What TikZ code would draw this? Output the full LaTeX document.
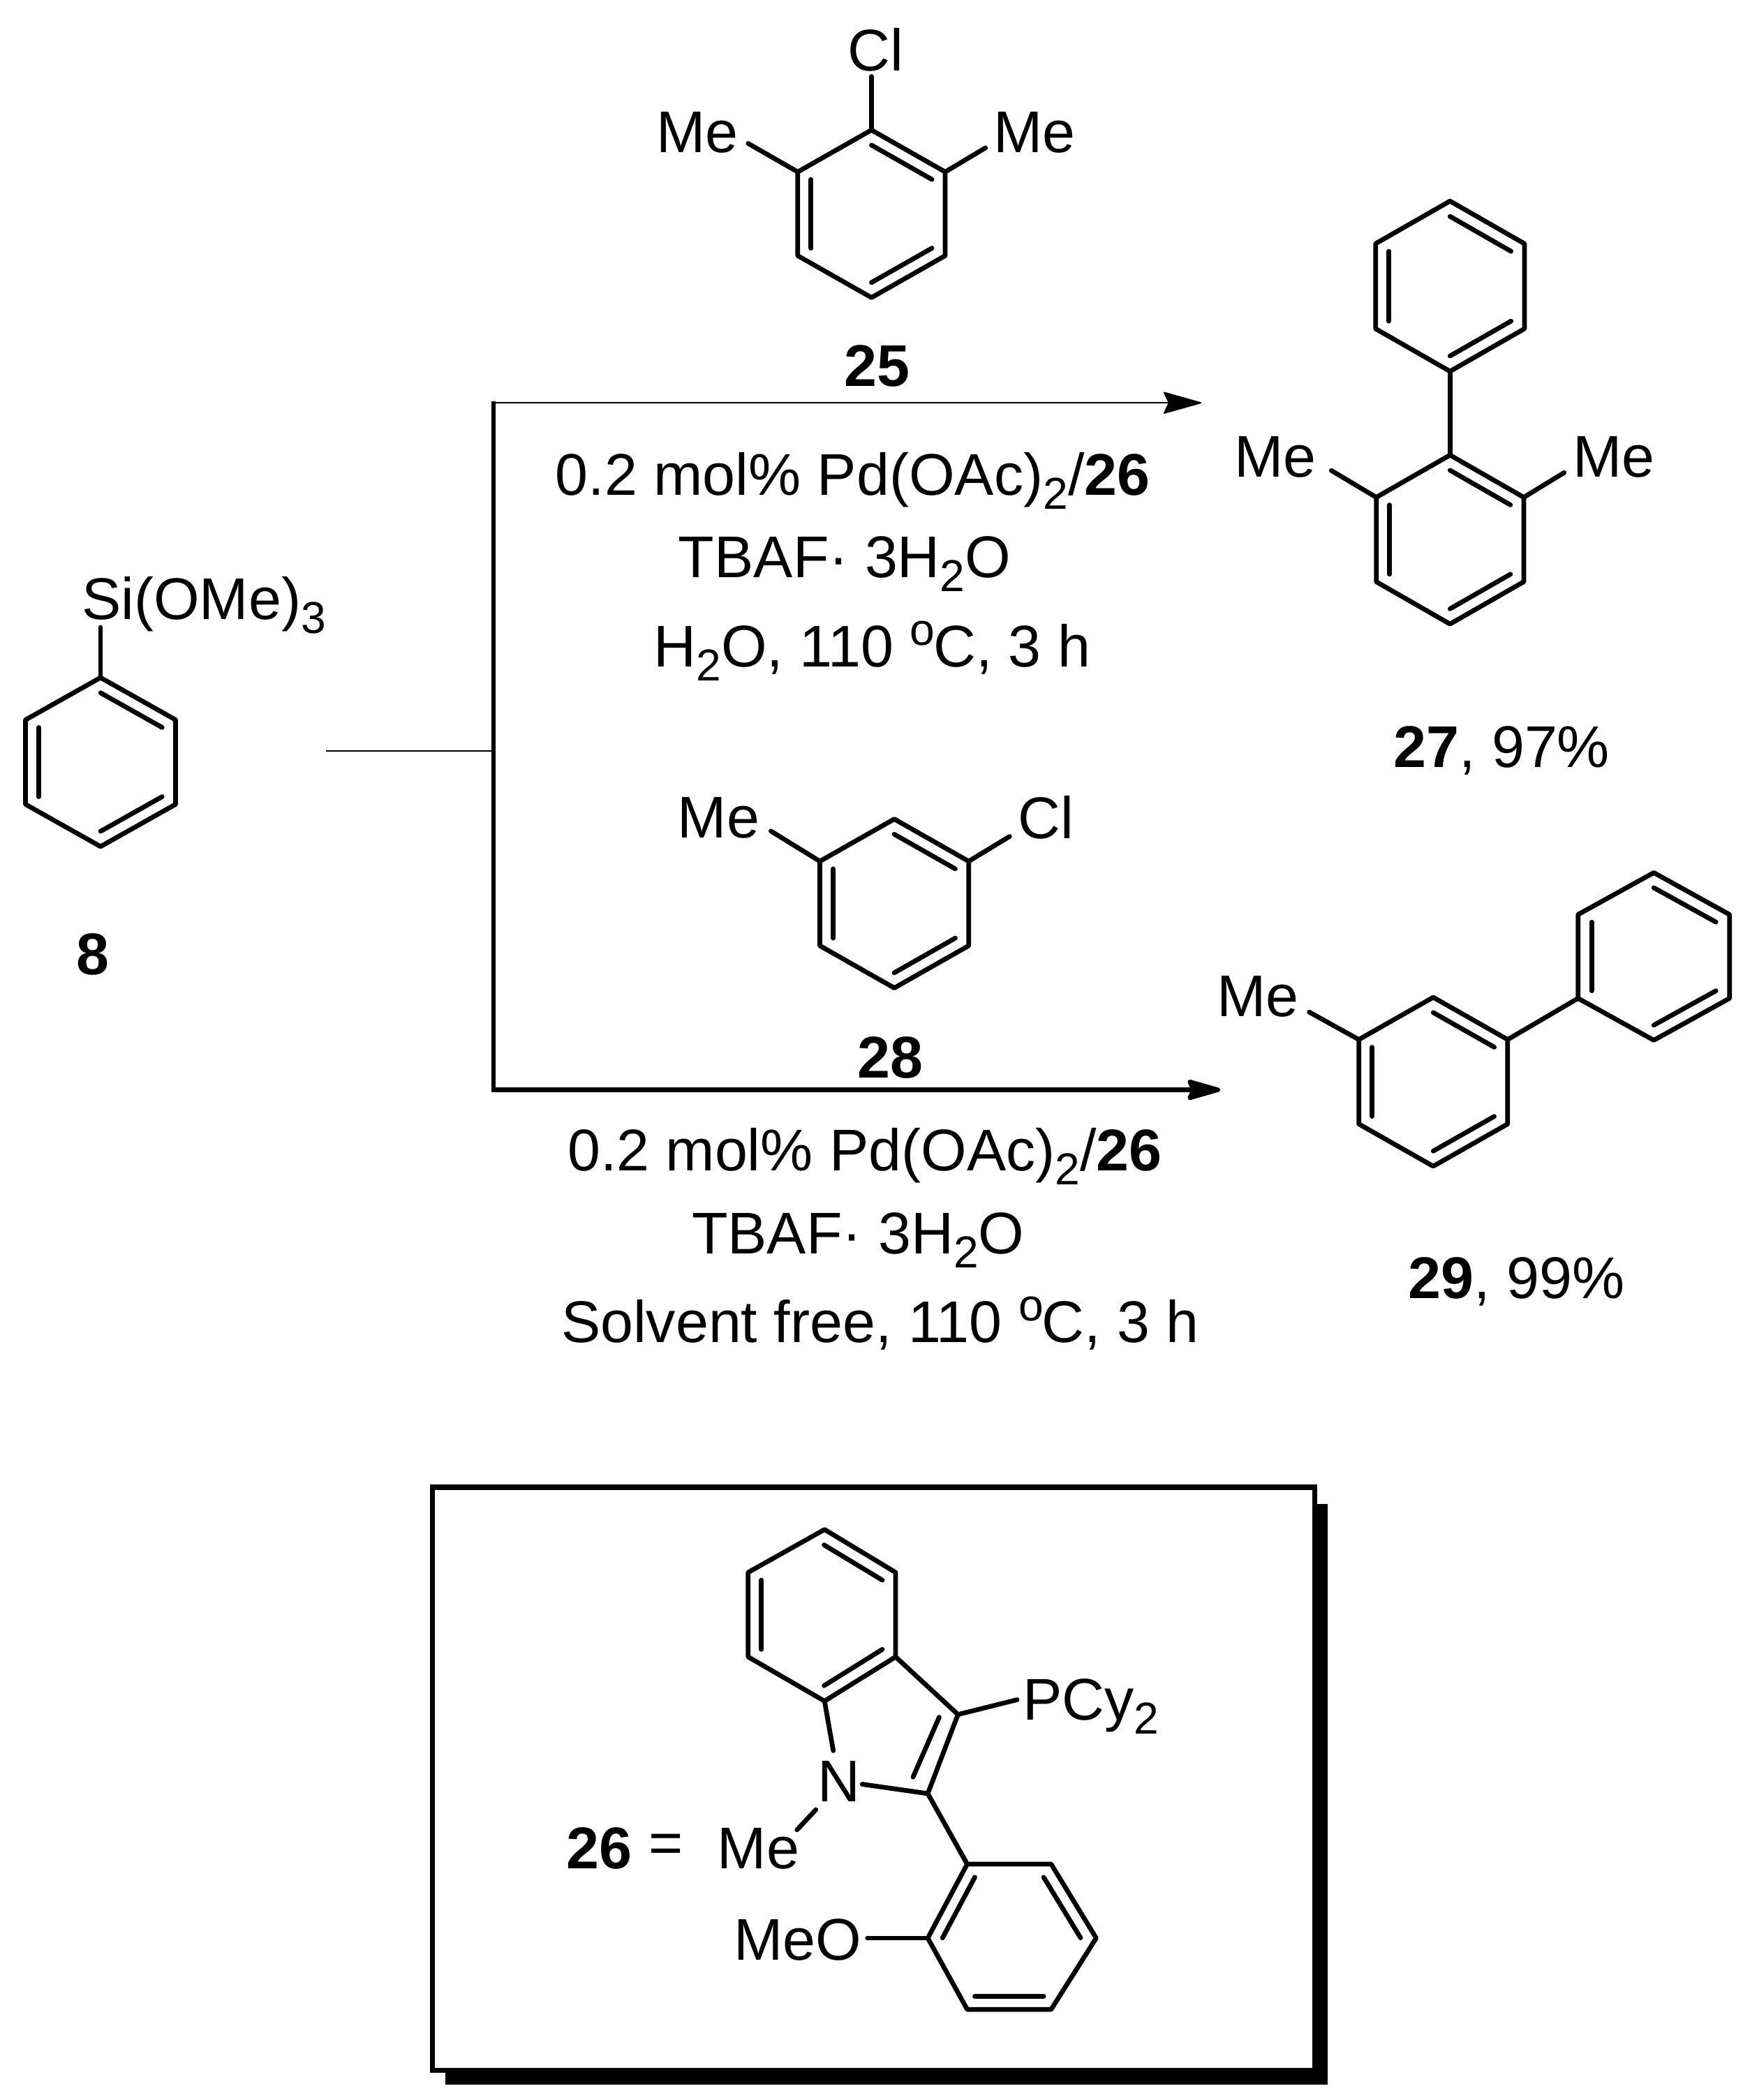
\documentclass[tikz,border=0pt]{standalone}
\usepackage{fontspec}
\setmainfont{Liberation Sans}
\usetikzlibrary{calc,arrows.meta}
\newcommand{\chemsub}[1]{\raisebox{-0.235em}{\fontsize{19}{20}\selectfont #1}}
\newcommand{\chemsup}[1]{\raisebox{0.37em}{\fontsize{19}{20}\selectfont #1}\kern-0.6pt}
% hexagon: name, cx, cy, rx, ry; vertices 1 top, clockwise
\newcommand{\hexring}[5]{%
  \coordinate (#1c) at (#2,#3);
  \coordinate (#11) at (#2,#3-#5);
  \coordinate (#12) at (#2+#4,#3-#5/2);
  \coordinate (#13) at (#2+#4,#3+#5/2);
  \coordinate (#14) at (#2,#3+#5);
  \coordinate (#15) at (#2-#4,#3+#5/2);
  \coordinate (#16) at (#2-#4,#3-#5/2);
  \draw[bond] (#11)--(#12)--(#13)--(#14)--(#15)--(#16)--cycle;
  \dbl{#11}{#12}{#1c}\dbl{#13}{#14}{#1c}\dbl{#15}{#16}{#1c}}
\newcommand{\dbl}[3]{\draw[bond] ($(#1)!0.18!(#3)$)--($(#2)!0.18!(#3)$);}
\tikzset{
  bond/.style={line width=2pt,line join=round,line cap=round,black},
  thinline/.style={line width=0.6pt,black},
  thickline/.style={line width=1.9pt,black},
  rxnhead/.style={-{Stealth[length=17pt,width=9.5pt,inset=2.2pt,round]}},
  lbl/.style={inner sep=0pt,outer sep=0pt,font=\fontsize{25}{28}\selectfont,text=black},
}
\begin{document}
\begin{tikzpicture}[x=0.02cm,y=-0.02cm]
\useasboundingbox (0,0) rectangle (1300,1566.6);
\fill[white] (0,0) rectangle (1300,1566.6);

% ---------- 25
\hexring{p}{650}{159.5}{55}{62.5}
\node[lbl] (cl25) at (653,37) {Cl};
\node[lbl] (mel25) at (520,99) {Me};
\node[lbl] (mer25) at (771.6,99) {Me};
\coordinate (cl25b) at (650,57);
\coordinate (mel25b) at (558,107);
\coordinate (mer25b) at (735,110.3);
\draw[bond] (p1)--(cl25b) (p6)--(mel25b) (p2)--(mer25b);
\node[lbl] (n25) at (654,273) {\textbf{25}};

% ---------- 8
\hexring{e}{75}{568.5}{56}{63}
\coordinate (e8b) at (75,468);
\draw[bond] (e1)--(e8b);
\node[lbl,anchor=base west] (si) at (61,462) {Si(OMe)\chemsub{3}};
\node[lbl] (n8) at (69,712) {\textbf{8}};

% ---------- scheme lines
\coordinate (stub) at (243,560);
\coordinate (vt) at (368,300.5);
\coordinate (vm) at (368,560);
\coordinate (vb) at (368,813);
\coordinate (a1) at (896,300.5);
\coordinate (a2) at (910,813);
\draw[thinline] (stub)--(vm);
\draw[thickline,line cap=butt] ($(vt)+(0,-1)$)--($(vb)+(0,1.6)$);
\draw[thinline,rxnhead] (vt)--(a1);
\draw[thickline,rxnhead] (vb)--(a2);

% ---------- conditions
\node[lbl,anchor=base] (c1a) at (636,369.5) {0.2 mol\% Pd(OAc)\chemsub{2}/\textbf{26}};
\node[lbl,anchor=base] (c1b) at (630,431) {TBAF· 3H\chemsub{2}O};
\node[lbl,anchor=base] (c1c) at (650.5,497.5) {H\chemsub{2}O, 110 \chemsup{o}C, 3 h};
\node[lbl,anchor=base] (c2a) at (645,873.5) {0.2 mol\% Pd(OAc)\chemsub{2}/\textbf{26}};
\node[lbl,anchor=base] (c2b) at (640,935.5) {TBAF· 3H\chemsub{2}O};
\node[lbl,anchor=base] (c2c) at (656.5,1001.5) {Solvent free, 110 \chemsup{o}C, 3 h};

% ---------- 27
\hexring{u}{1081.5}{213.5}{55.5}{63.5}
\hexring{v}{1081.5}{402.5}{55}{63}
\draw[bond] (u4)--(v1);
\node[lbl] (mel27) at (951,341) {Me};
\node[lbl] (mer27) at (1203.5,341) {Me};
\coordinate (mel27b) at (993,351);
\coordinate (mer27b) at (1166.6,352.6);
\draw[bond] (v6)--(mel27b) (v2)--(mer27b);
\node[lbl] (n27) at (1120,560) {\textbf{27}, 97\%};

% ---------- 28
\hexring{m}{667}{674}{55.5}{63}
\node[lbl] (me28) at (536,610) {Me};
\node[lbl] (cl28) at (780,610) {Cl};
\coordinate (me28b) at (575,620);
\coordinate (cl28b) at (753,624);
\draw[bond] (m6)--(me28b) (m2)--(cl28b);
\node[lbl] (n28) at (664,789) {\textbf{28}};

% ---------- 29
\hexring{q}{1069}{807}{55.5}{63}
\hexring{r}{1233.5}{713.5}{56.5}{62.5}
\draw[bond] (q2)--(r5);
\node[lbl] (me29) at (938,743.5) {Me};
\coordinate (me29b) at (976.5,755);
\draw[bond] (q6)--(me29b);
\node[lbl] (n29) at (1131,956) {\textbf{29}, 99\%};

% ---------- box with shadow
\fill[black] (332,1122) rectangle (990.5,1555);
\draw[line width=2.2pt,fill=white,line join=miter] (322.5,1109.5) rectangle (980.5,1544.5);

% ---------- 26
\coordinate (i1) at (615,1141);
\coordinate (i2) at (668,1173);
\coordinate (i3) at (668,1236);
\coordinate (i4) at (615,1269);
\coordinate (i5) at (558,1236);
\coordinate (i6) at (558,1173);
\coordinate (ic) at (613,1205);
\draw[bond] (i1)--(i2)--(i3)--(i4)--(i5)--(i6)--cycle;
\dbl{i1}{i2}{ic}\dbl{i3}{i4}{ic}\dbl{i5}{i6}{ic}
\coordinate (c3) at (714.5,1279);
\coordinate (c2) at (692,1338);
\coordinate (nb1) at (621.5,1306);
\coordinate (nb2) at (643,1331);
\coordinate (nb3) at (608.5,1350);
\coordinate (nb4) at (594.5,1365);
\coordinate (pb) at (758.6,1268);
\coordinate (d1) at (700.5,1281);
\coordinate (d2) at (681,1325.7);
\draw[bond] (i3)--(c3)--(c2)--(nb2) (i4)--(nb1) (nb3)--(nb4) (c3)--(pb) (d1)--(d2);
\node[lbl] (nn) at (626,1329) {N};
\node[lbl] (nme) at (565.7,1379) {Me};
\node[lbl] (n26) at (447,1379) {\textbf{26}};
\node[lbl] (eq26) at (497,1379) {=};
\node[lbl,anchor=base west] (pcy) at (763,1283) {PCy\chemsub{2}};
\coordinate (h1) at (721.4,1390.6);
\coordinate (h2) at (784,1390.6);
\coordinate (h3) at (817.6,1445.8);
\coordinate (h4) at (784,1499);
\coordinate (h5) at (721.4,1499);
\coordinate (h6) at (692,1445.8);
\coordinate (hc) at (753,1445);
\draw[bond] (h1)--(h2)--(h3)--(h4)--(h5)--(h6)--cycle;
\draw[bond] (c2)--(h1);
\dbl{h2}{h3}{hc}\dbl{h4}{h5}{hc}\dbl{h6}{h1}{hc}
\coordinate (ob) at (647,1445.8);
\draw[bond] (h6)--(ob);
\node[lbl] (meo) at (595,1447) {MeO};
\end{tikzpicture}
\end{document}
